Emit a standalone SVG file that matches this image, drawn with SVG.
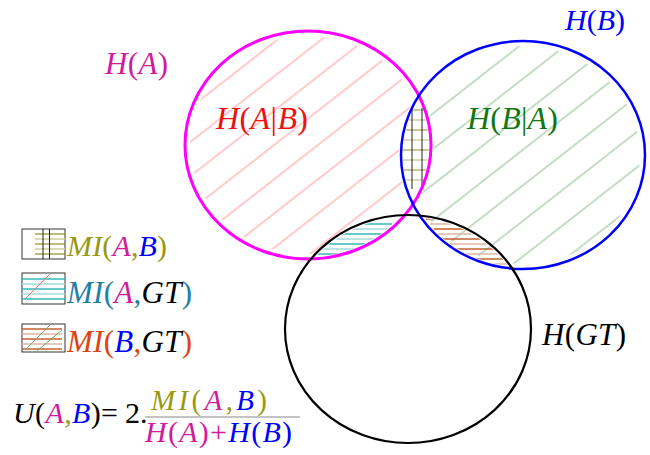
<svg xmlns="http://www.w3.org/2000/svg" width="650" height="455" viewBox="0 0 650 455" font-family="'Liberation Serif', serif">
<style>
text{font-family:'Liberation Serif','Times New Roman',serif;font-style:italic}
.up{font-style:normal}
.mag{fill:#d01ba0}.blu{fill:#0000ff}.blk{fill:#000}.oli{fill:#999911}.tea{fill:#1f7fa6}.org{fill:#dd4411}
.ring{fill:none}
.hO1{stroke:#8f8f2a;stroke-width:1.2}.hO2{stroke:#cfcf9c;stroke-width:1.5}
.hC1{stroke:#33b8b8;stroke-width:1.3}.hC2{stroke:#a3dcdc;stroke-width:1.6}
.hB1{stroke:#c0622e;stroke-width:1.3}.hB2{stroke:#dcb6a2;stroke-width:1.6}
.vk{stroke:#222;stroke-width:1}
.box{fill:#fff;stroke:#333;stroke-width:1}
</style>
<defs>
<pattern id="patRed" patternUnits="userSpaceOnUse" width="27" height="27" patternTransform="rotate(-38)"><line x1="0" y1="13" x2="27" y2="13" stroke="#ff8a8a" stroke-width="0.9"/></pattern>
<pattern id="patGreen" patternUnits="userSpaceOnUse" width="28" height="28" patternTransform="rotate(-38) translate(0 6)"><line x1="0" y1="14" x2="28" y2="14" stroke="#80b080" stroke-width="0.9"/></pattern>
<mask id="mAnotB" maskUnits="userSpaceOnUse" x="0" y="0" width="650" height="455"><rect width="650" height="455" fill="#000"/><ellipse cx="308" cy="145" rx="118" ry="109" fill="#fff"/><ellipse cx="523" cy="155" rx="124" ry="116" fill="#000"/></mask>
<mask id="mBnotA" maskUnits="userSpaceOnUse" x="0" y="0" width="650" height="455"><rect width="650" height="455" fill="#000"/><ellipse cx="523" cy="155" rx="117" ry="109" fill="#fff"/><ellipse cx="308" cy="145" rx="126" ry="117" fill="#000"/></mask>
<clipPath id="cA"><ellipse cx="308" cy="145" rx="121" ry="112"/></clipPath>
<clipPath id="cB"><ellipse cx="523" cy="155" rx="120" ry="112"/></clipPath>
<clipPath id="cGT"><ellipse cx="408" cy="329" rx="121" ry="112"/></clipPath>
</defs>

<g id="hatching">
<rect width="650" height="455" fill="url(#patRed)" mask="url(#mAnotB)"/>
<rect width="650" height="455" fill="url(#patGreen)" mask="url(#mBnotA)"/>
<g clip-path="url(#cA)"><g clip-path="url(#cB)">
<line class="hO1" x1="395" y1="110" x2="436" y2="110"/>
<line class="hO2" x1="395" y1="120" x2="436" y2="120"/>
<line class="hO1" x1="395" y1="130" x2="436" y2="130"/>
<line class="hO2" x1="395" y1="140" x2="436" y2="140"/>
<line class="hO1" x1="395" y1="150" x2="436" y2="150"/>
<line class="hO2" x1="395" y1="160" x2="436" y2="160"/>
<line class="hO1" x1="395" y1="170" x2="436" y2="170"/>
<line class="hO2" x1="395" y1="180" x2="436" y2="180"/>
</g></g>
<line class="vk" x1="412" y1="108" x2="412" y2="189"/>
<line class="vk" x1="422" y1="108" x2="422" y2="189"/>
<g clip-path="url(#cA)"><g clip-path="url(#cGT)">
<line class="hC1" x1="300" y1="224" x2="392" y2="224"/>
<line class="hC2" x1="300" y1="229" x2="388" y2="229"/>
<line class="hC1" x1="300" y1="234" x2="384" y2="234"/>
<line class="hC2" x1="300" y1="239" x2="378" y2="239"/>
<line class="hC1" x1="300" y1="244" x2="372" y2="244"/>
<line class="hC2" x1="300" y1="249" x2="366" y2="249"/>
<line class="hC1" x1="300" y1="254" x2="362" y2="254"/>
</g></g>
<g clip-path="url(#cB)"><g clip-path="url(#cGT)">
<line class="hB1" x1="426" y1="219" x2="530" y2="219"/>
<line class="hB2" x1="430" y1="224" x2="530" y2="224"/>
<line class="hB1" x1="434" y1="229" x2="530" y2="229"/>
<line class="hB2" x1="438" y1="234" x2="530" y2="234"/>
<line class="hB1" x1="442" y1="239" x2="530" y2="239"/>
<line class="hB2" x1="446" y1="244" x2="530" y2="244"/>
<line class="hB1" x1="452" y1="249" x2="530" y2="249"/>
<line class="hB2" x1="456" y1="254" x2="530" y2="254"/>
<line class="hB1" x1="462" y1="259" x2="530" y2="259"/>
<line class="hB2" x1="468" y1="264" x2="530" y2="264"/>
</g></g>
</g>

<g id="circleA"><ellipse class="ring" cx="308" cy="145" rx="123" ry="114" stroke="#ff00ff" stroke-width="3"/></g>
<g id="circleB"><ellipse class="ring" cx="523" cy="155" rx="122" ry="114" stroke="#0000ff" stroke-width="2.5"/></g>
<g id="circleGT"><ellipse class="ring" cx="408" cy="329" rx="123" ry="114" stroke="#000" stroke-width="2.2"/></g>

<g id="labels">
<text x="105" y="74" font-size="31" class="mag" textLength="63">H<tspan class="up">(</tspan>A<tspan class="up">)</tspan></text>
<text x="565" y="30" font-size="30" class="blu" textLength="60">H<tspan class="up">(</tspan>B<tspan class="up">)</tspan></text>
<text x="216" y="129" font-size="32" fill="#ee1111" textLength="92">H<tspan class="up">(</tspan>A<tspan class="up">|</tspan>B<tspan class="up">)</tspan></text>
<text x="467" y="129" font-size="32" fill="#117711" textLength="91">H<tspan class="up">(</tspan>B<tspan class="up">|</tspan>A<tspan class="up">)</tspan></text>
<text x="542" y="345" font-size="31" class="blk" textLength="84">H<tspan class="up">(</tspan>GT<tspan class="up">)</tspan></text>
</g>

<g id="legendMIAB">
<rect class="box" x="22" y="229" width="43" height="30"/>
<line class="hO1" x1="35" y1="234" x2="65" y2="234"/>
<line class="hO2" x1="35" y1="239" x2="65" y2="239"/>
<line class="hO1" x1="35" y1="244" x2="65" y2="244"/>
<line class="hO2" x1="35" y1="249" x2="65" y2="249"/>
<line class="hO1" x1="35" y1="254" x2="65" y2="254"/>
<line class="vk" x1="43" y1="229" x2="43" y2="259"/>
<line class="vk" x1="49.5" y1="229" x2="49.5" y2="259"/>
<text x="67" y="256" font-size="30" class="oli" textLength="100">MI<tspan class="up">(</tspan><tspan class="mag">A</tspan><tspan class="up">,</tspan><tspan class="blu">B</tspan><tspan class="up">)</tspan></text>
</g>
<g id="legendMIAGT">
<rect class="box" x="22" y="273" width="43" height="31"/>
<line class="hC1" x1="22" y1="279" x2="65" y2="279"/>
<line class="hC2" x1="22" y1="284" x2="65" y2="284"/>
<line class="hC1" x1="22" y1="289" x2="65" y2="289"/>
<line class="hC2" x1="22" y1="294" x2="65" y2="294"/>
<line class="hC1" x1="22" y1="299" x2="65" y2="299"/>
<line x1="25" y1="299" x2="50" y2="274" stroke="#ff7070" stroke-width="1"/>
<text x="67" y="303" font-size="31" class="tea" textLength="125">MI<tspan class="up">(</tspan><tspan class="mag">A</tspan><tspan class="up">,</tspan><tspan class="blk">GT</tspan><tspan class="up">)</tspan></text>
</g>
<g id="legendMIBGT">
<rect class="box" x="22" y="324" width="43" height="28"/>
<line class="hB1" x1="22" y1="329" x2="62" y2="329"/>
<line class="hB2" x1="22" y1="334" x2="62" y2="334"/>
<line class="hB1" x1="22" y1="339" x2="62" y2="339"/>
<line class="hB2" x1="22" y1="344" x2="62" y2="344"/>
<line class="hB1" x1="22" y1="349" x2="62" y2="349"/>
<line x1="25" y1="350" x2="50" y2="325" stroke="#6fae6f" stroke-width="1"/>
<line x1="37" y1="351" x2="62" y2="330" stroke="#6fae6f" stroke-width="1"/>
<text x="67" y="352" font-size="31" class="org" textLength="125">MI<tspan class="up">(</tspan><tspan class="blu">B</tspan><tspan class="up">,</tspan><tspan class="blk">GT</tspan><tspan class="up">)</tspan></text>
</g>

<g id="formula">
<text x="13" y="423" font-size="30" class="blk" textLength="105">U<tspan class="up">(</tspan><tspan class="mag">A</tspan><tspan class="up oli">,</tspan><tspan class="blu">B</tspan><tspan class="up">)=</tspan></text>
<text x="125" y="423" font-size="30" class="blk up">2.</text>
<text x="151" y="410" font-size="29" class="oli" textLength="116">MI<tspan class="up">(</tspan><tspan class="mag">A</tspan><tspan class="up">,</tspan><tspan class="blu">B</tspan><tspan class="up">)</tspan></text>
<line x1="145" y1="417" x2="300" y2="417" stroke="#888" stroke-width="1"/>
<text x="145" y="442" font-size="30" class="mag" textLength="147">H<tspan class="up">(</tspan>A<tspan class="up">)+</tspan><tspan class="blu">H<tspan class="up">(</tspan>B<tspan class="up">)</tspan></tspan></text>
</g>
</svg>
